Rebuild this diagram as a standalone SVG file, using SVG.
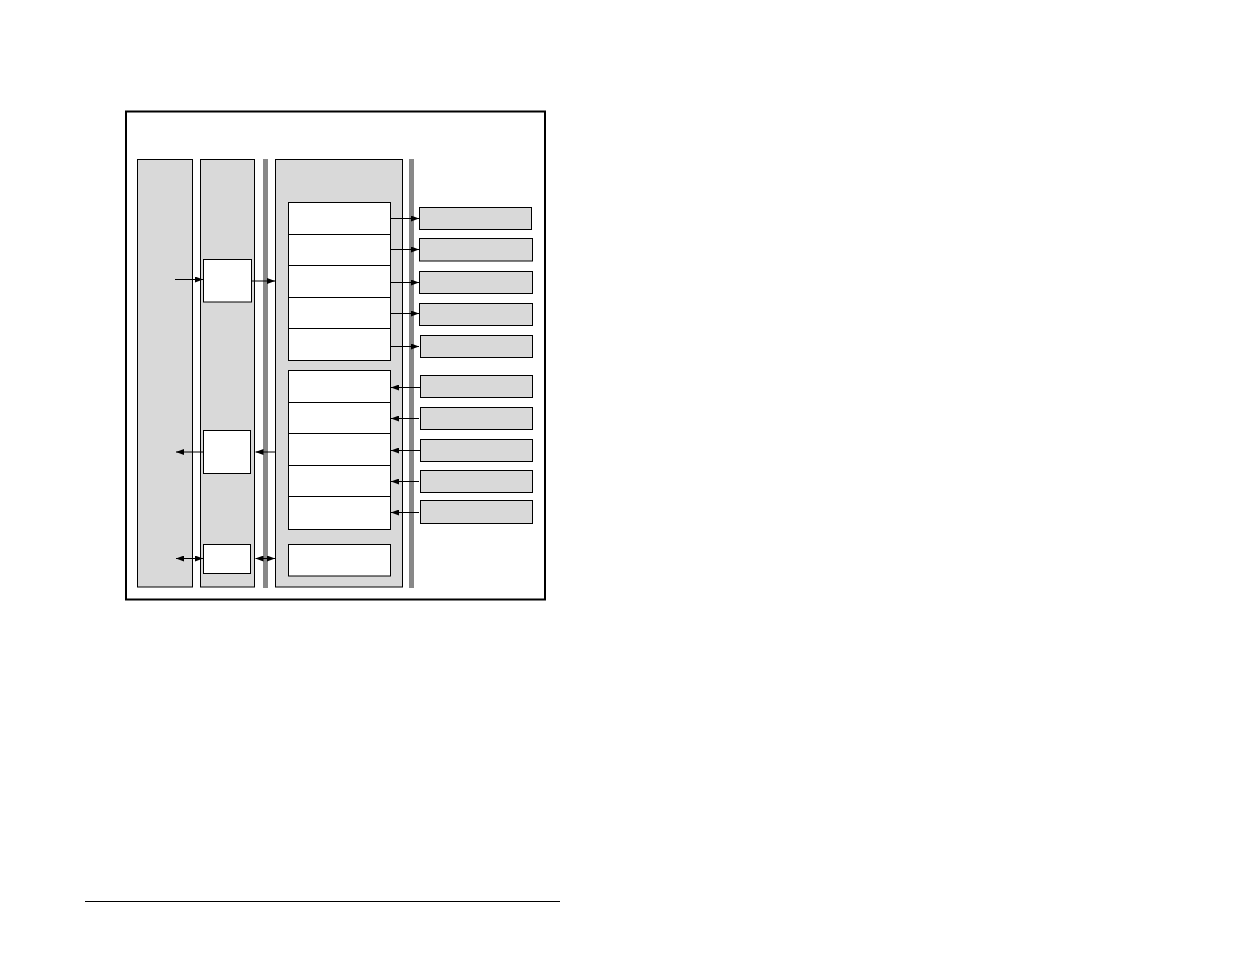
<svg xmlns="http://www.w3.org/2000/svg" width="1235" height="954" viewBox="0 0 1235 954">
<style>
.col{fill:#d9d9d9;stroke:#000;stroke-width:1}
.wb{fill:#fff;stroke:#000;stroke-width:1}
.gb{fill:#d9d9d9;stroke:#000;stroke-width:1}
.bar{fill:#888;stroke:none}
.c{stroke:#000;stroke-width:1;fill:none}
.ar{marker-end:url(#ah)}
.dar{marker-end:url(#ah);marker-start:url(#ahs)}
</style>
<defs>
<marker id="ah" viewBox="0 0 8 6" refX="8" refY="3" markerWidth="8" markerHeight="6" markerUnits="userSpaceOnUse" orient="auto"><path d="M0,0 L8,3 L0,6 z" fill="#000"/></marker>
<marker id="ahs" viewBox="0 0 8 6" refX="0" refY="3" markerWidth="8" markerHeight="6" markerUnits="userSpaceOnUse" orient="auto"><path d="M8,0 L0,3 L8,6 z" fill="#000"/></marker>
</defs>
<rect width="1235" height="954" fill="#fff"/>
<g id="frame"><rect x="126" y="111.5" width="419" height="488" fill="#fff" stroke="#000" stroke-width="2"/></g>
<g id="col1"><rect class="col" x="137.5" y="159.5" width="55" height="427.5"/></g>
<g id="col2"><rect class="col" x="200.5" y="159.5" width="54" height="427.5"/></g>
<g id="bus1"><rect class="bar" x="263" y="159" width="5" height="429"/></g>
<g id="col3"><rect class="col" x="275.5" y="159.5" width="127" height="427.5"/></g>
<g id="bus2"><rect class="bar" x="409" y="159" width="5" height="429"/></g>
<g id="boxA"><rect class="wb" x="203.5" y="259.5" width="48" height="42.5"/></g>
<g id="boxB"><rect class="wb" x="203.5" y="430.5" width="47" height="43"/></g>
<g id="boxC"><rect class="wb" x="203.5" y="544.5" width="47" height="29"/></g>
<g id="stack1">
<rect class="wb" x="288.5" y="202.5" width="102" height="32"/>
<rect class="wb" x="288.5" y="234.5" width="102" height="31"/>
<rect class="wb" x="288.5" y="265.5" width="102" height="32"/>
<rect class="wb" x="288.5" y="297.5" width="102" height="31"/>
<rect class="wb" x="288.5" y="328.5" width="102" height="32"/>
</g>
<g id="stack2">
<rect class="wb" x="288.5" y="370.5" width="102" height="32"/>
<rect class="wb" x="288.5" y="402.5" width="102" height="31"/>
<rect class="wb" x="288.5" y="433.5" width="102" height="32"/>
<rect class="wb" x="288.5" y="465.5" width="102" height="31"/>
<rect class="wb" x="288.5" y="496.5" width="102" height="33"/>
</g>
<g id="boxD"><rect class="wb" x="288.5" y="544.5" width="102" height="31.5"/></g>
<g id="r1"><rect class="gb" x="419.5" y="207.5" width="112" height="22"/></g>
<g id="r2"><rect class="gb" x="419.5" y="238.5" width="113" height="22.5"/></g>
<g id="r3"><rect class="gb" x="419.5" y="271.5" width="113" height="22"/></g>
<g id="r4"><rect class="gb" x="419.5" y="303.5" width="113" height="22"/></g>
<g id="r5"><rect class="gb" x="420.5" y="335.5" width="112" height="22"/></g>
<g id="r6"><rect class="gb" x="420.5" y="375.5" width="112" height="22"/></g>
<g id="r7"><rect class="gb" x="420.5" y="407.5" width="112" height="22"/></g>
<g id="r8"><rect class="gb" x="420.5" y="439.5" width="112" height="22"/></g>
<g id="r9"><rect class="gb" x="420.5" y="470.5" width="112" height="22"/></g>
<g id="r10"><rect class="gb" x="420.5" y="500.5" width="112" height="23"/></g>
<g id="connectors">
<line class="c ar" x1="175" y1="279.5" x2="203" y2="279.5"/>
<line class="c ar" x1="252" y1="281" x2="275" y2="281"/>
<line class="c ar" x1="203" y1="452" x2="176" y2="452"/>
<line class="c ar" x1="275" y1="452" x2="255.5" y2="452"/>
<line class="c dar" x1="176" y1="558.5" x2="203" y2="558.5"/>
<line class="c dar" x1="255.5" y1="558.5" x2="275" y2="558.5"/>
<line class="c ar" x1="391" y1="218.5" x2="419" y2="218.5"/>
<line class="c ar" x1="391" y1="249.5" x2="419" y2="249.5"/>
<line class="c ar" x1="391" y1="282.5" x2="419" y2="282.5"/>
<line class="c ar" x1="391" y1="313.5" x2="419" y2="313.5"/>
<line class="c ar" x1="391" y1="346.5" x2="419" y2="346.5"/>
<line class="c ar" x1="420" y1="387.5" x2="391" y2="387.5"/>
<line class="c ar" x1="419" y1="418.5" x2="391" y2="418.5"/>
<line class="c ar" x1="420" y1="450.5" x2="391" y2="450.5"/>
<line class="c ar" x1="419" y1="481.5" x2="391" y2="481.5"/>
<line class="c ar" x1="419" y1="512.5" x2="391" y2="512.5"/>
</g>
<g id="rule"><line x1="85" y1="901.5" x2="560" y2="901.5" stroke="#000" stroke-width="1.2"/></g>
</svg>
